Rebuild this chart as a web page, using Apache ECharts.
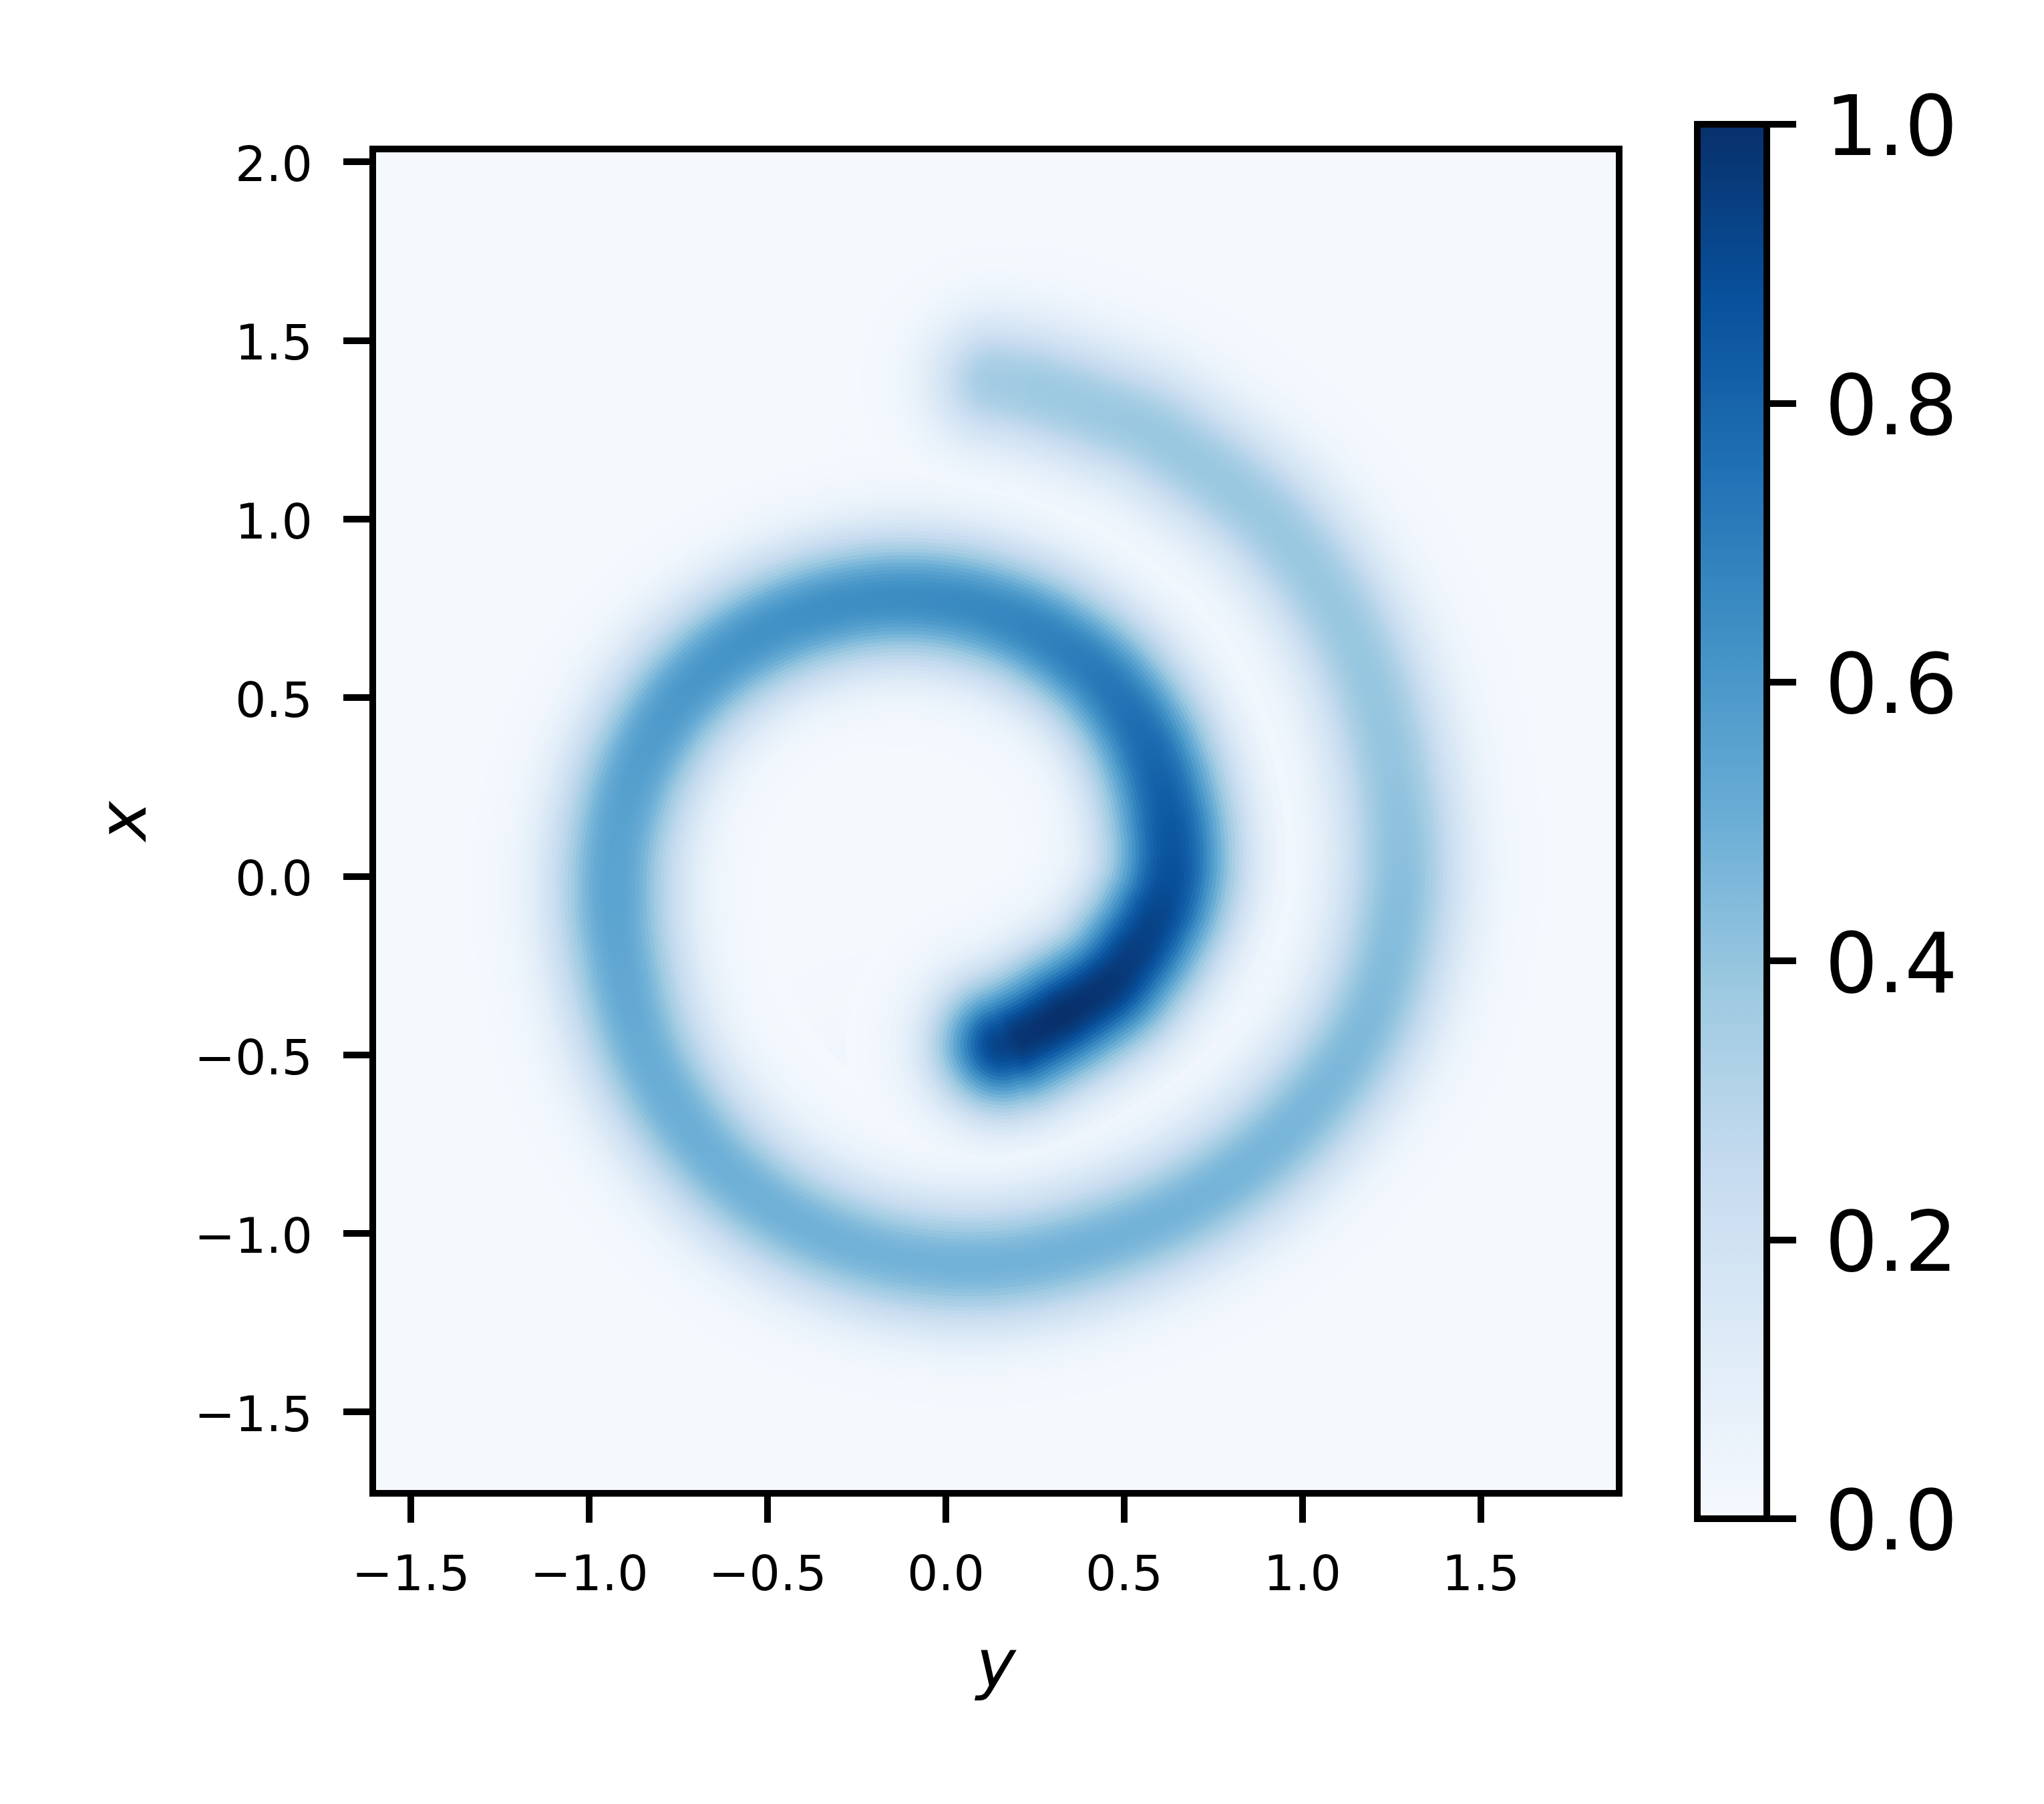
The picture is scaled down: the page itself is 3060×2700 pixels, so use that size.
<!DOCTYPE html>
<html>
<head>
<meta charset="utf-8">
<title>spiral</title>
<style>
  html, body { margin: 0; padding: 0; background: #fff; }
  #chart { width: 3060px; height: 2700px; }
</style>
<script src="https://cdn.jsdelivr.net/npm/echarts@6/dist/echarts.min.js"></script>
</head>
<body>
<div id="chart"></div>
<script>
// ticks
const yTicks = [-1.5, -1.0, -0.5, 0, 0.5, 1.0, 1.5];
const xTicks = [-1.5, -1.0, -0.5, 0, 0.5, 1.0, 1.5, 2.0];
const cbarTicks = [0, 0.2, 0.4, 0.6, 0.8, 1.0];

// ridge of the spiral arm, outer end to inner end
const armY = [0.14, 0.254, 0.44, 0.615, 0.921, 1.139, 1.251, 1.27, 1.174, 0.965, 0.704, 0.4225, 0.142, -0.13, -0.376, -0.582, -0.739, -0.847, -0.905, -0.93, -0.914, -0.845, -0.723, -0.552, -0.349, -0.13, 0.09, 0.294, 0.464, 0.576, 0.628, 0.627, 0.59, 0.524, 0.449, 0.32, 0.213, 0.16];
const armX = [1.385, 1.362, 1.3, 1.22, 0.981, 0.6625, 0.3, -0.07, -0.42, -0.7025, -0.904, -1.027, -1.084, -1.068, -0.988, -0.854, -0.679, -0.484, -0.278, -0.07, 0.14, 0.343, 0.523, 0.66, 0.746, 0.778, 0.751, 0.664, 0.524, 0.338, 0.133, -0.007, -0.114, -0.223, -0.309, -0.393, -0.453, -0.472];
const armValue = [0.36, 0.375, 0.38, 0.385, 0.385, 0.39, 0.4, 0.43, 0.45, 0.465, 0.475, 0.48, 0.48, 0.48, 0.485, 0.49, 0.5, 0.51, 0.53, 0.55, 0.555, 0.575, 0.6, 0.62, 0.635, 0.645, 0.66, 0.69, 0.73, 0.79, 0.85, 0.88, 0.92, 0.95, 0.98, 1, 0.98, 0.93];

// pale floor between the two turns
const gapY = [0.266, 0.536, 0.803, 0.944, 0.955, 0.889, 0.751, 0.481, 0.105, -0.154];
const gapX = [1.046, 0.939, 0.617, 0.294, 0.047, -0.168, -0.436, -0.683, -0.812, -0.791];
const gapValue = [0.08, 0.12, 0.12, 0.12, 0.12, 0.12, 0.12, 0.12, 0.11, 0.06];

// cross section of the arm: distance from ridge and share of ridge value
const bandOffset = [0.44, 0.42, 0.40, 0.38, 0.36, 0.34, 0.32, 0.30, 0.29, 0.28, 0.27, 0.26, 0.25, 0.24, 0.23, 0.22, 0.21, 0.20, 0.19, 0.18, 0.17, 0.16, 0.15, 0.14, 0.13, 0.12, 0.11, 0.10, 0.09, 0.08, 0.07, 0.06, 0.05, 0.04, 0.03, 0.02];
const bandShare = [0.004, 0.007, 0.012, 0.018, 0.026, 0.036, 0.05, 0.07, 0.083, 0.098, 0.115, 0.135, 0.16, 0.185, 0.21, 0.245, 0.28, 0.315, 0.35, 0.39, 0.43, 0.475, 0.52, 0.57, 0.62, 0.67, 0.72, 0.77, 0.82, 0.86, 0.90, 0.93, 0.955, 0.975, 0.99, 1];

const blues = ['#f5f9fe', '#deebf7', '#c6dbef', '#9ecae1', '#6baed6', '#4292c6', '#2171b5', '#08519c', '#08306b'];

const FONT = '"DejaVu Sans"';
const chart = echarts.init(document.getElementById('chart'), null, { renderer: 'canvas' });

function bandRenderer(ys, xs, vals, widen) {
  // paler segments first so a round cap never paints over a darker stretch
  const order = ys.slice(1).map((d, i) => i).sort((p, q) => (vals[p] + vals[p + 1]) - (vals[q] + vals[q + 1]));
  return function (params, api) {
    const k = params.dataIndex;
    const lineWidth = api.size([2 * bandOffset[k] * widen, 0])[0];
    const pts = ys.map((y, i) => api.coord([y, xs[i]]));
    const children = order.map(function (i) {
      const a = pts[i];
      const b = pts[i + 1];
      const before = pts[Math.max(i - 1, 0)];
      const after = pts[Math.min(i + 2, pts.length - 1)];
      return {
        type: 'bezierCurve',
        silent: true,
        shape: {
          x1: a[0], y1: a[1], x2: b[0], y2: b[1],
          cpx1: a[0] + (b[0] - before[0]) / 6, cpy1: a[1] + (b[1] - before[1]) / 6,
          cpx2: b[0] - (after[0] - a[0]) / 6, cpy2: b[1] - (after[1] - a[1]) / 6
        },
        style: {
          fill: null,
          lineWidth: lineWidth,
          lineCap: 'round',
          stroke: new echarts.graphic.LinearGradient(a[0], a[1], b[0], b[1], [
            { offset: 0, color: echarts.color.lerp(vals[i] * bandShare[k], blues) },
            { offset: 1, color: echarts.color.lerp(vals[i + 1] * bandShare[k], blues) }
          ], true)
        }
      };
    });
    return { type: 'group', children: children };
  };
}

function tickText(v) {
  return v.toFixed(1).replace('-', '\u2212');
}

chart.setOption({
  animation: false,
  backgroundColor: '#fff',
  grid: [
    { left: 558, top: 223, width: 1866, height: 2012, show: true, backgroundColor: blues[0], borderColor: '#000', borderWidth: 10 },
    { left: 2541, top: 186, width: 104, height: 2087, show: true, backgroundColor: 'transparent', borderColor: '#000', borderWidth: 10, z: 3 }
  ],
  xAxis: [
    {
      type: 'value', gridIndex: 0, min: -1.607, max: 1.888,
      name: 'y', nameLocation: 'middle', nameGap: 213,
      nameTextStyle: { fontFamily: FONT, fontStyle: 'italic', fontSize: 100, color: '#000' },
      splitLine: { show: false }, axisLine: { show: false, onZero: false },
      axisTick: { customValues: yTicks, length: 44, lineStyle: { width: 10, color: '#000' } },
      axisLabel: { customValues: yTicks, margin: 90, fontFamily: FONT, fontSize: 73, color: '#000', formatter: tickText }
    },
    { type: 'value', gridIndex: 1, min: 0, max: 1, show: false }
  ],
  yAxis: [
    {
      type: 'value', gridIndex: 0, min: -1.728, max: 2.036,
      name: 'x', nameLocation: 'middle', nameGap: 316,
      nameTextStyle: { fontFamily: FONT, fontStyle: 'italic', fontSize: 100, color: '#000' },
      splitLine: { show: false }, axisLine: { show: false, onZero: false },
      axisTick: { customValues: xTicks, length: 44, lineStyle: { width: 10, color: '#000' } },
      axisLabel: { customValues: xTicks, margin: 90, verticalAlign: 'top', lineHeight: 20, fontFamily: FONT, fontSize: 73, color: '#000', formatter: tickText }
    },
    {
      type: 'value', gridIndex: 1, min: 0, max: 1, position: 'right',
      splitLine: { show: false }, axisLine: { show: false, onZero: false },
      axisTick: { customValues: cbarTicks, length: 44, lineStyle: { width: 10, color: '#000' } },
      axisLabel: { customValues: cbarTicks, margin: 87, verticalAlign: 'top', lineHeight: 28, fontFamily: FONT, fontSize: 125, color: '#000', formatter: tickText }
    }
  ],
  series: [
    {
      type: 'custom', xAxisIndex: 0, yAxisIndex: 0, clip: true, silent: true,
      data: bandOffset.map((d, i) => [i]),
      encode: { x: null, y: null },
      renderItem: bandRenderer(gapY, gapX, gapValue, 2)
    },
    {
      type: 'custom', xAxisIndex: 0, yAxisIndex: 0, clip: true, silent: true,
      data: bandOffset.map((d, i) => [i]),
      encode: { x: null, y: null },
      renderItem: bandRenderer(armY, armX, armValue, 1)
    },
    {
      type: 'custom', xAxisIndex: 1, yAxisIndex: 1, silent: true,
      data: [[0, 1]],
      renderItem: function (params, api) {
        const top = api.coord([0, 1]);
        const bottom = api.coord([1, 0]);
        return {
          type: 'rect',
          shape: { x: top[0], y: top[1], width: bottom[0] - top[0], height: bottom[1] - top[1] },
          style: {
            fill: new echarts.graphic.LinearGradient(0, 1, 0, 0,
              blues.map((c, i) => ({ offset: i / (blues.length - 1), color: c })))
          }
        };
      }
    }
  ]
});
</script>
</body>
</html>
